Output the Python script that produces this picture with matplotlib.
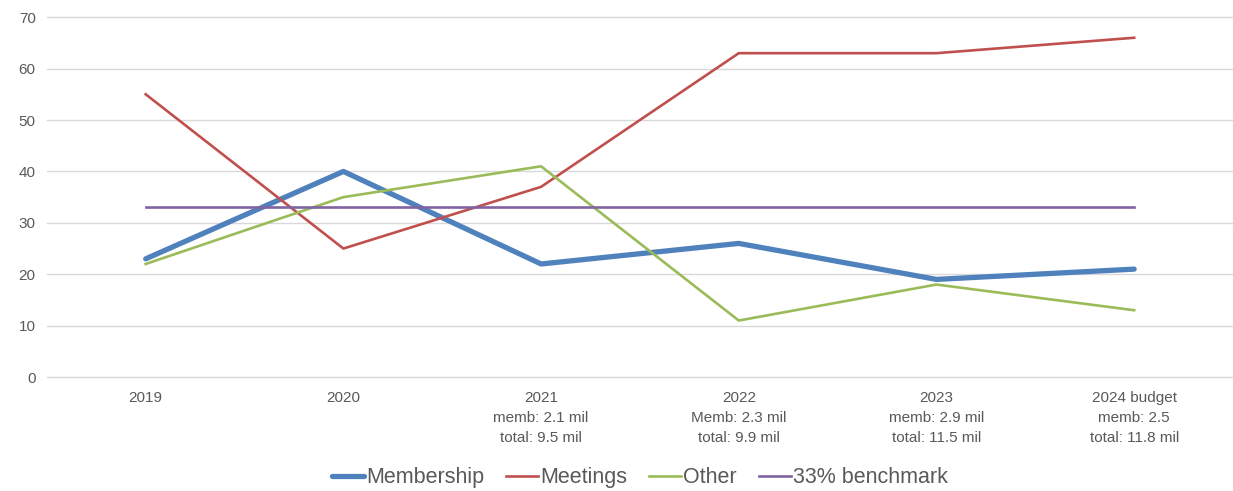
import matplotlib.pyplot as plt

plt.rcParams['font.family'] = ['Liberation Sans Narrow', 'Liberation Sans', 'DejaVu Sans']

# Данные с графика
categories = ['2019', '2020', '2021\nmemb: 2.1 mil\ntotal: 9.5 mil',
              '2022\nMemb: 2.3 mil\ntotal: 9.9 mil',
              '2023\nmemb: 2.9 mil\ntotal: 11.5 mil',
              '2024 budget\nmemb: 2.5\ntotal: 11.8 mil']
membership = [23, 40, 22, 26, 19, 21]
meetings = [55, 25, 37, 63, 63, 66]
other = [22, 35, 41, 11, 18, 13]
benchmark = [33, 33, 33, 33, 33, 33]

fig = plt.figure(figsize=(12.33, 4.91), dpi=100)
ax = fig.add_axes([0.038, 0.232, 0.962, 0.733])

x = range(len(categories))
ax.plot(x, membership, color='#4F81BD', lw=3.8, label='Membership', solid_capstyle='round', zorder=3)
ax.plot(x, meetings, color='#C0504D', lw=1.9, label='Meetings', zorder=3)
ax.plot(x, other, color='#9BBB59', lw=1.9, label='Other', zorder=3)
ax.plot(x, benchmark, color='#8064A2', lw=1.9, label='33% benchmark', zorder=3)

ax.set_xlim(-0.5, 5.5)
ax.set_ylim(0, 70)
ax.set_yticks(range(0, 71, 10))
ax.set_xticks(list(x))
ax.set_xticklabels(categories, linespacing=1.55)
ax.tick_params(axis='both', length=0, labelsize=11, colors='#595959')
ax.tick_params(axis='x', pad=10)
ax.tick_params(axis='y', pad=8)
ax.grid(axis='y', color='#D9D9D9', lw=1)
for gl in ax.get_ygridlines():
    gl.set_clip_on(False)
ax.set_axisbelow(True)
for s in ax.spines.values():
    s.set_visible(False)

ax.legend(loc='center', bbox_to_anchor=(0.5, -0.28), ncol=4, frameon=False,
          fontsize=15.5, handlelength=1.5, handletextpad=0.1, columnspacing=1.0,
          labelcolor='#595959')

fig.savefig('out.png')
